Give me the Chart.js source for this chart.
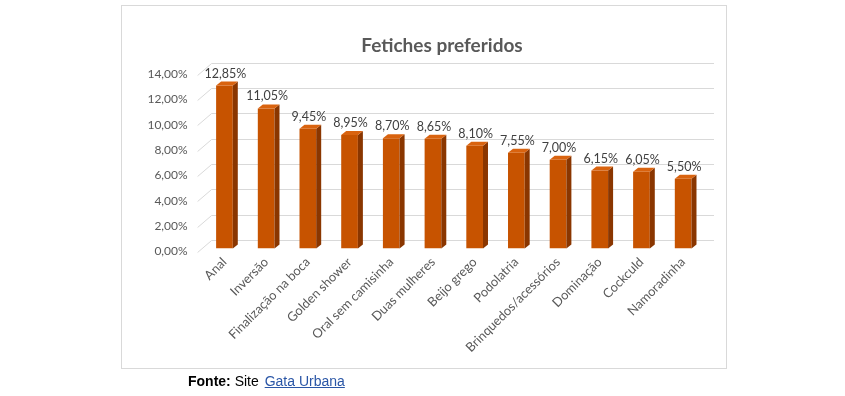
<!DOCTYPE html>
<html>
<head>
<meta charset="utf-8">
<script src="https://cdn.jsdelivr.net/npm/chart.js@4/dist/chart.umd.min.js"></script>
<style>
  html, body { margin: 0; padding: 0; background: #fff; }
  #wrap { position: relative; width: 845px; height: 396px; overflow: hidden; }
  #c { position: absolute; left: 0; top: 0; }
  #box { position: absolute; left: 121px; top: 5px; width: 604px; height: 362px; border: 1px solid #d9d9d9; pointer-events: none; }
  #fonte { position: absolute; left: 188px; top: 373px; font-family: "Liberation Sans", Arial, sans-serif; font-size: 14px; color: #000; }
  #fonte a { color: #2a56a6; text-decoration: underline; margin-left: 2px; }
</style>
</head>
<body>
<div id="wrap">
  <canvas id="c" width="845" height="396"></canvas>
  <div id="box"></div>
  <div id="fonte"><b>Fonte:</b> Site <a href="#">Gata Urbana</a></div>
</div>
<script>
const chartTitle = 'Fetiches preferidos';
const categories = ['Anal', 'Inversão', 'Finalização na boca', 'Golden shower', 'Oral sem camisinha', 'Duas mulheres', 'Beijo grego', 'Podolatria', 'Brinquedos/acessórios', 'Dominação', 'Cockculd', 'Namoradinha'];
const values = [12.85, 11.05, 9.45, 8.95, 8.70, 8.65, 8.10, 7.55, 7.00, 6.15, 6.05, 5.50];
const yTicks = [0, 2, 4, 6, 8, 10, 12, 14];

const fmt = v => v.toFixed(2).replace('.', ',') + '%';
const FONT = 'Lato, "Open Sans", sans-serif';

const frontColor = '#C75300';
const sideColor = '#8A3600';
const topColor = '#D9630F';

const deco = {
  id: 'deco',
  beforeDatasetsDraw(chart) {
    const ctx = chart.ctx;
    const ys = chart.scales.y;
    const area = chart.chartArea;
    ctx.save();
    ctx.strokeStyle = '#d9d9d9';
    ctx.lineWidth = 1;
    yTicks.forEach(v => {
      const y = ys.getPixelForValue(v);
      ctx.beginPath();
      ctx.moveTo(area.left - 6, Math.round(y + 3.5) + 0.5);
      ctx.lineTo(area.left + 8, Math.round(y - 8.5) + 0.5);
      ctx.lineTo(area.right + 10, Math.round(y - 8.5) + 0.5);
      ctx.stroke();
    });
    // title
    ctx.fillStyle = '#595959';
    ctx.font = 'bold 19px ' + FONT;
    ctx.textAlign = 'center';
    ctx.textBaseline = 'middle';
    ctx.fillText(chartTitle, 442, 46);
    ctx.restore();
  },
  afterDatasetsDraw(chart) {
    const ctx = chart.ctx;
    const meta = chart.getDatasetMeta(0);
    const dx = 5, dy = -4;
    ctx.save();
    meta.data.forEach((bar, i) => {
      const p = bar.getProps(['x', 'y', 'width', 'base'], true);
      const l = p.x - p.width / 2, r = p.x + p.width / 2;
      ctx.fillStyle = sideColor;
      ctx.beginPath();
      ctx.moveTo(r, p.y);
      ctx.lineTo(r + dx, p.y + dy);
      ctx.lineTo(r + dx, p.base + dy);
      ctx.lineTo(r, p.base);
      ctx.closePath();
      ctx.fill();
      ctx.fillStyle = topColor;
      ctx.beginPath();
      ctx.moveTo(l, p.y);
      ctx.lineTo(l + dx, p.y + dy);
      ctx.lineTo(r + dx, p.y + dy);
      ctx.lineTo(r, p.y);
      ctx.closePath();
      ctx.fill();
      ctx.fillStyle = '#404040';
      ctx.font = '12.5px ' + FONT;
      ctx.textAlign = 'center';
      ctx.textBaseline = 'alphabetic';
      ctx.fillText(fmt(values[i]), p.x + 1, p.y - 8);
    });
    ctx.restore();
  }
};

new Chart(document.getElementById('c'), {
  type: 'bar',
  data: {
    labels: categories,
    datasets: [{
      data: values,
      backgroundColor: frontColor,
      borderWidth: 0,
      categoryPercentage: 1,
      barPercentage: 0.4
    }]
  },
  options: {
    responsive: false,
    animation: false,
    devicePixelRatio: 1,
    layout: { padding: { left: 0, right: 141, top: 71, bottom: 0 } },
    plugins: { legend: { display: false }, tooltip: { enabled: false }, title: { display: false } },
    scales: {
      x: {
        grid: { display: false, drawTicks: false },
        border: { display: false },
        afterFit(s) { s.height = 147.5; },
        ticks: {
          autoSkip: false, minRotation: 45, maxRotation: 45, padding: 6,
          color: '#595959', font: { family: FONT, size: 12.8 }
        }
      },
      y: {
        min: 0, max: 14,
        grid: { display: false, drawTicks: false },
        border: { display: false },
        afterFit(s) { s.width = 203.6; },
        afterBuildTicks(s) { s.ticks = yTicks.map(v => ({ value: v })); },
        ticks: {
          padding: 16, labelOffset: 3,
          color: '#595959', font: { family: FONT, size: 12 },
          callback: v => fmt(v)
        }
      }
    }
  },
  plugins: [deco]
});
</script>
</body>
</html>
